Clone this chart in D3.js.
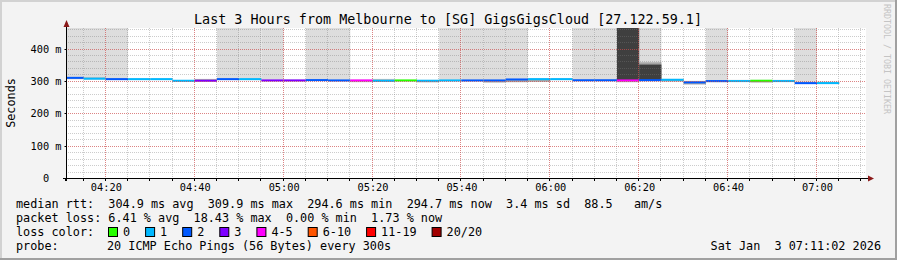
<!DOCTYPE html>
<html>
<head>
<meta charset="utf-8">
<script src="https://cdn.jsdelivr.net/npm/d3@7"></script>
<style>
    html, body { margin: 0; padding: 0; background: #f3f3f3; }
    svg { display: block; }
    text { font-family: "DejaVu Sans Mono", monospace; fill: #000; white-space: pre; }
</style>
</head>
<body>
<svg id="chart"></svg>
<script>
const title = 'Last 3 Hours from Melbourne to [SG] GigsGigsCloud [27.122.59.1]'
const rangeStart = '2026-01-03 04:11:02'
const rangeEnd = '2026-01-03 07:11:02'
const stepSeconds = 300

// one entry per 5 minute step
const stepStart = ['04:10', '04:15', '04:20', '04:25', '04:30', '04:35', '04:40', '04:45', '04:50', '04:55',
    '05:00', '05:05', '05:10', '05:15', '05:20', '05:25', '05:30', '05:35', '05:40', '05:45',
    '05:50', '05:55', '06:00', '06:05', '06:10', '06:15', '06:20', '06:25', '06:30', '06:35',
    '06:40', '06:45', '06:50', '06:55', '07:00']
const medianRtt = [311, 308.5, 307, 307, 307, 302, 302, 307, 307, 303,
    303, 304, 303, 303, 302, 303, 302, 303, 303, 303,
    306, 307, 307, 303.5, 303.5, 303, 304, 305, 297, 301,
    301, 302, 301, 294.6, 294.7]
const lostPings = [2, 1, 2, 1, 1, 1, 3, 2, 1, 3,
    3, 2, 2, 4, 1, 0, 1, 1, 2, 2,
    2, 1, 1, 2, 2, 4, 2, 1, 2, 2,
    1, 0, 1, 2, 1]
// smoke: lowest ping, 10th pct, 75th pct, 90th pct, highest ping (ms)
const pingMin = [306, 305, 304, 305, 305, 299, 300, 304, 304, 300,
    300, 301, 300, 297, 298, 300, 296, 300, 300, 296,
    297, 298, 304, 301, 301, 297, 300, 299, 290, 297,
    298, 296, 298, 292, 292]
const pingP10 = [308, 307, 305, 306, 306, 300, 301, 305, 305, 301,
    301, 302, 301, 299, 299, 301, 298, 301, 301, 297,
    298, 299, 305, 302, 302, 298, 301, 300, 291, 298,
    299, 297, 299, 293, 293]
const pingP75 = [311, 308.5, 307, 307, 307, 302, 302, 307, 307, 303,
    303, 304, 303, 303, 302, 303, 302, 303, 303, 303,
    306, 307, 307, 303.5, 303.5, 600, 352, 305, 297, 301,
    301, 302, 301, 294.6, 294.7]
const pingP90 = [313, 312, 309, 308, 308, 303, 307, 308, 308, 304,
    304, 305, 304, 304, 306, 304, 303, 304, 304, 304,
    307, 308, 308, 305, 305, 600, 359, 306, 300, 302,
    303, 303, 303, 298, 298]
const pingMax = [600, 600, 600, 309, 309, 304, 308, 600, 600, 600,
    306, 600, 600, 306, 308, 305, 305, 600, 600, 600,
    600, 310, 310, 600, 600, 600, 600, 308, 302, 600,
    305, 305, 305, 600, 300]

const yTicks = [0, 100, 200, 300, 400]
const yMax = 465

const lossLabels = ['0', '1', '2', '3', '4-5', '6-10', '11-19', '20/20']
const lossBreaks = [1, 2, 3, 4, 6, 11, 20]
const lossColors = ['#26ff00', '#00b8ff', '#0059ff', '#7e00ff', '#ff00fe', '#ff5500', '#ff0000', '#a10000']

const rttLine = 'median rtt:  304.9 ms avg  309.9 ms max  294.6 ms min  294.7 ms now  3.4 ms sd  88.5   am/s'
const lossLine = 'packet loss: 6.41 % avg  18.43 % max  0.00 % min  1.73 % now'
const probeText = ['probe:', '20 ICMP Echo Pings (56 Bytes) every 300s']
const stamp = 'Sat Jan  3 07:11:02 2026'
const credit = 'RRDTOOL / TOBI OETIKER'

const W = 897, H = 260
const plotLeft = 66, plotRight = 866, plotTop = 28, plotBottom = 178.5

const parseFull = d3.timeParse('%Y-%m-%d %H:%M:%S')
const parseHM = d3.timeParse('%Y-%m-%d %H:%M')
const t0 = parseFull(rangeStart)
const t1 = parseFull(rangeEnd)

const steps = stepStart.map((s, i) => {
    const t = parseHM('2026-01-03 ' + s)
    return {
        t: t,
        t2: new Date(+t + stepSeconds * 1000),
        med: medianRtt[i],
        lost: lostPings[i],
        min: pingMin[i], p10: pingP10[i], p75: pingP75[i], p90: pingP90[i], max: pingMax[i]
    }
})

const x = d3.scaleTime().domain([t0, t1]).range([plotLeft, plotRight])
const y = d3.scaleLinear().domain([0, yMax]).range([plotBottom, plotTop])
const lossColor = d3.scaleThreshold().domain(lossBreaks).range(lossColors)
const crisp = (v) => Math.round(v) - 0.5

const svg = d3.select('#chart').attr('width', W).attr('height', H)

// frame
svg.append('rect').attr('width', W).attr('height', H).attr('fill', '#f3f3f3')
svg.append('path').attr('d', `M1,${H} V1 H${W}`).attr('fill', 'none').attr('stroke', '#d2d2d2').attr('stroke-width', 2)
svg.append('path').attr('d', `M0,${H - 1} H${W - 1} V0`).attr('fill', 'none').attr('stroke', '#a0a0a0').attr('stroke-width', 2)

svg.append('text')
    .attr('x', 448).attr('y', 24)
    .attr('text-anchor', 'middle')
    .style('font-size', '13.4px')
    .text(title)

svg.append('text')
    .attr('transform', 'translate(884,4) rotate(90)')
    .style('font-size', '8.3px')
    .style('fill', '#c4c4c4')
    .text(credit)

// plot canvas
svg.append('defs').append('clipPath').attr('id', 'plot-clip')
    .append('rect').attr('x', plotLeft).attr('y', plotTop).attr('width', plotRight - plotLeft).attr('height', 178 - plotTop)

svg.append('rect')
    .attr('x', plotLeft).attr('y', plotTop).attr('width', plotRight - plotLeft).attr('height', 178 - plotTop)
    .attr('fill', '#fff')

const plot = svg.append('g').attr('clip-path', 'url(#plot-clip)')

const band = (cls, lo, hi, color) => {
    plot.selectAll('.' + cls)
        .data(steps.filter((d) => hi(d) > lo(d)))
        .enter()
        .append('rect')
        .attr('class', cls)
        .attr('x', (d) => x(d.t))
        .attr('width', (d) => x(d.t2) - x(d.t))
        .attr('y', (d) => y(hi(d)))
        .attr('height', (d) => y(lo(d)) - y(hi(d)))
        .attr('fill', color)
}

band('smoke-outer', (d) => d.min, (d) => d.max, '#dddddd')
band('smoke-mid', (d) => d.p10, (d) => d.p90, '#a6a6a6')
band('smoke-core', (d) => d.med, (d) => d.p75, '#3f3f3f')

// grid
const minorTimes = d3.timeMinute.every(5).range(t0, t1)
const majorTimes = d3.timeMinute.every(20).range(t0, t1)
const minorValues = d3.range(20, yMax, 20)
const grid = svg.append('g')

grid.selectAll('.vminor')
    .data(minorTimes)
    .enter()
    .append('line')
    .attr('x1', (d) => crisp(x(d))).attr('x2', (d) => crisp(x(d)))
    .attr('y1', plotTop).attr('y2', 178)
    .attr('stroke', 'rgba(120,120,120,0.38)')
    .attr('stroke-dasharray', '1,1')

grid.selectAll('.hminor')
    .data(minorValues)
    .enter()
    .append('line')
    .attr('x1', plotLeft).attr('x2', plotRight)
    .attr('y1', (d) => Math.floor(y(d)) + 0.5).attr('y2', (d) => Math.floor(y(d)) + 0.5)
    .attr('stroke', 'rgba(120,120,120,0.38)')
    .attr('stroke-dasharray', '1,1')

grid.selectAll('.vmajor')
    .data(majorTimes)
    .enter()
    .append('line')
    .attr('x1', (d) => crisp(x(d))).attr('x2', (d) => crisp(x(d)))
    .attr('y1', plotTop).attr('y2', 178)
    .attr('stroke', 'rgba(235,60,60,0.5)')
    .attr('stroke-dasharray', '1,1')

grid.selectAll('.hmajor')
    .data(yTicks.filter((d) => d > 0))
    .enter()
    .append('line')
    .attr('x1', plotLeft).attr('x2', plotRight)
    .attr('y1', (d) => Math.floor(y(d)) + 0.5).attr('y2', (d) => Math.floor(y(d)) + 0.5)
    .attr('stroke', 'rgba(235,60,60,0.5)')
    .attr('stroke-dasharray', '1,1')

// median rtt coloured by loss
plot.selectAll('.median')
    .data(steps)
    .enter()
    .append('rect')
    .attr('class', 'median')
    .attr('x', (d) => x(d.t))
    .attr('width', (d) => x(d.t2) - x(d.t))
    .attr('y', (d) => y(d.med) - 1)
    .attr('height', 2)
    .attr('fill', (d) => lossColor(d.lost))

// axes
const xAxis = d3.axisBottom(x)
    .tickValues(majorTimes)
    .tickFormat(d3.timeFormat('%H:%M'))
    .tickSize(0)
    .tickPadding(6)

const gx = svg.append('g').attr('transform', 'translate(0,178)').call(xAxis)
gx.select('.domain').remove()
gx.selectAll('text').style('font-size', '10.3px').attr('font-family', null)

svg.append('g')
    .selectAll('line')
    .data(minorTimes.concat([t0]))
    .enter()
    .append('line')
    .attr('x1', (d) => crisp(x(d))).attr('x2', (d) => crisp(x(d)))
    .attr('y1', 178).attr('y2', 181)
    .attr('stroke', '#000')

const yAxis = d3.axisLeft(y)
    .tickValues(yTicks)
    .tickFormat((d) => d === 0 ? '0  ' : d + ' m')
    .tickSize(2)
    .tickPadding(3)

const gy = svg.append('g').attr('transform', 'translate(66.5,0)').call(yAxis)
gy.select('.domain').remove()
gy.selectAll('.tick').attr('transform', (d) => `translate(0,${Math.floor(y(d)) + 0.5})`)
gy.selectAll('text').style('font-size', '10.3px').attr('font-family', null)
gy.selectAll('line').attr('stroke', '#000')

svg.append('line')
    .attr('x1', 66.5).attr('x2', 66.5).attr('y1', 181).attr('y2', 24)
    .attr('stroke', '#000')
svg.append('line')
    .attr('x1', 63).attr('x2', 869).attr('y1', 178.5).attr('y2', 178.5)
    .attr('stroke', '#000')
svg.append('path')
    .attr('d', 'M63.5,27 L69.5,27 L66.5,20 Z')
    .attr('fill', '#8b1a1a')
svg.append('path')
    .attr('d', 'M868,175.5 L868,181.5 L874,178.5 Z')
    .attr('fill', '#8b1a1a')

svg.append('text')
    .attr('transform', 'translate(15,103) rotate(-90)')
    .attr('text-anchor', 'middle')
    .style('font-size', '11.8px')
    .text('Seconds')

// legend
const legend = svg.append('g').style('font-size', '11.8px')

legend.append('text').attr('x', 16).attr('y', 208).text(rttLine)
legend.append('text').attr('x', 16).attr('y', 222).text(lossLine)
legend.append('text').attr('x', 16).attr('y', 236).text('loss color:')

let boxX = 108
const keys = lossLabels.map((label, i) => {
    const k = { label: label, color: lossColors[i], x: boxX }
    boxX += 30 + label.length * 7.1
    return k
})

legend.selectAll('.key-box')
    .data(keys)
    .enter()
    .append('rect')
    .attr('class', 'key-box')
    .attr('x', (d) => d.x + 0.5).attr('y', 227.5)
    .attr('width', 9).attr('height', 9)
    .attr('fill', (d) => d.color)
    .attr('stroke', '#000')

legend.selectAll('.key-label')
    .data(keys)
    .enter()
    .append('text')
    .attr('class', 'key-label')
    .attr('x', (d) => d.x + 15)
    .attr('y', 236)
    .text((d) => d.label)

legend.append('text').attr('x', 16).attr('y', 250).text(probeText[0])
legend.append('text').attr('x', 107).attr('y', 250).text(probeText[1])
legend.append('text').attr('x', 881).attr('y', 250).attr('text-anchor', 'end').text(stamp)
</script>
</body>
</html>
